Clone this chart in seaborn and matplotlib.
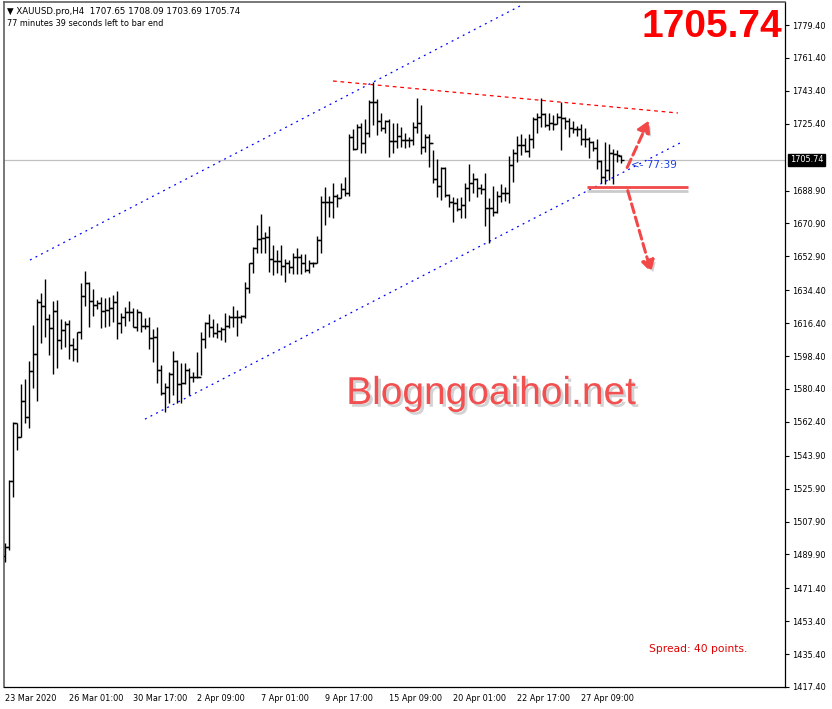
import numpy as np
import pandas as pd
import matplotlib
matplotlib.use("Agg")
import matplotlib.pyplot as plt
import matplotlib.patheffects as pe
from matplotlib.patches import FancyArrowPatch
import seaborn as sns

# H4 bars of XAUUSD, 23 Mar - 28 Apr 2020
opens = [1489.0, 1494.1, 1530.2, 1561.6, 1554.3, 1573.8, 1565.2, 1590.2, 1599.3, 1627.7,
         1625.7, 1618.4, 1613.5, 1623.0, 1607.1, 1612.6, 1615.9, 1604.4, 1602.2, 1611.7,
         1631.2, 1638.1, 1628.5, 1626.3, 1627.2, 1623.0, 1623.5, 1624.4, 1627.7, 1616.2,
         1619.9, 1622.6, 1622.3, 1614.4, 1622.6, 1615.0, 1615.0, 1608.0, 1609.0, 1590.7,
         1578.0, 1581.6, 1588.5, 1595.7, 1582.9, 1583.4, 1590.7, 1587.1, 1586.7, 1587.1,
         1607.7, 1616.3, 1614.4, 1611.2, 1612.1, 1613.0, 1614.8, 1619.5, 1619.5, 1619.9,
         1620.3, 1635.4, 1649.4, 1657.3, 1662.2, 1662.7, 1663.7, 1651.3, 1650.3, 1650.3,
         1647.6, 1649.4, 1647.3, 1652.4, 1652.7, 1649.4, 1645.4, 1649.4, 1649.4, 1661.8,
         1682.8, 1682.8, 1682.8, 1685.9, 1685.0, 1689.7, 1687.4, 1718.3, 1711.6, 1723.8,
         1715.1, 1720.2, 1737.1, 1737.1, 1726.9, 1722.9, 1726.9, 1716.0, 1716.0, 1718.5,
         1716.5, 1716.5, 1716.5, 1723.5, 1726.0, 1712.9, 1718.3, 1714.7, 1695.0, 1691.4,
         1701.0, 1686.4, 1682.8, 1682.2, 1678.6, 1681.0, 1690.1, 1693.2, 1695.2, 1690.1,
         1689.5, 1679.5, 1679.5, 1677.3, 1685.9, 1687.4, 1687.4, 1702.8, 1709.6, 1713.8,
         1713.8, 1710.7, 1716.9, 1727.8, 1729.3, 1730.6, 1724.7, 1725.6, 1725.1, 1728.9,
         1728.4, 1727.1, 1722.9, 1722.4, 1722.4, 1717.1, 1716.9, 1715.3, 1712.3, 1705.0,
         1696.5, 1700.1, 1709.6, 1708.9, 1707.65]
highs = [1495.9, 1530.6, 1562.1, 1561.6, 1582.9, 1585.8, 1595.6, 1615.3, 1629.6, 1632.7,
         1640.5, 1621.3, 1628.5, 1629.0, 1618.6, 1617.5, 1618.1, 1608.0, 1611.7, 1638.3,
         1644.9, 1639.0, 1634.8, 1629.0, 1630.8, 1630.3, 1630.8, 1631.7, 1633.9, 1621.7,
         1625.0, 1628.5, 1624.4, 1624.1, 1622.6, 1619.0, 1619.9, 1613.1, 1614.4, 1593.5,
         1583.4, 1589.8, 1601.1, 1596.2, 1594.4, 1594.7, 1591.6, 1589.8, 1600.8, 1611.7,
         1617.2, 1621.2, 1618.4, 1616.3, 1614.4, 1621.7, 1620.8, 1625.9, 1623.6, 1620.8,
         1639.0, 1649.4, 1657.8, 1670.0, 1676.0, 1666.0, 1669.5, 1659.1, 1656.4, 1659.1,
         1651.3, 1650.9, 1654.5, 1657.3, 1654.0, 1654.0, 1650.9, 1650.0, 1664.2, 1685.9,
         1691.0, 1685.9, 1693.2, 1687.0, 1692.8, 1696.1, 1719.8, 1722.5, 1725.3, 1726.0,
         1727.8, 1738.4, 1748.1, 1738.8, 1731.1, 1727.5, 1727.8, 1726.0, 1725.6, 1723.8,
         1720.2, 1718.0, 1726.5, 1739.7, 1735.7, 1719.8, 1719.8, 1711.0, 1706.1, 1701.9,
         1701.6, 1686.8, 1685.2, 1684.6, 1685.5, 1693.2, 1703.2, 1698.3, 1695.6, 1692.5,
         1698.6, 1685.0, 1691.4, 1688.6, 1692.3, 1691.0, 1707.8, 1711.6, 1718.7, 1719.6,
         1717.4, 1719.8, 1728.9, 1731.5, 1739.7, 1731.1, 1731.5, 1730.2, 1731.5, 1737.5,
         1728.9, 1728.4, 1726.9, 1724.4, 1725.1, 1722.9, 1718.0, 1716.0, 1716.9, 1705.6,
         1715.3, 1714.2, 1711.4, 1711.0, 1708.09]
lows = [1485.9, 1492.3, 1521.4, 1547.0, 1554.3, 1561.6, 1559.2, 1580.7, 1574.0, 1605.7,
        1609.0, 1598.9, 1588.3, 1592.0, 1602.0, 1603.5, 1596.7, 1595.8, 1595.3, 1607.5,
        1625.7, 1614.4, 1620.4, 1623.9, 1613.5, 1614.4, 1615.0, 1617.2, 1607.5, 1610.8,
        1614.8, 1617.5, 1614.4, 1612.2, 1611.3, 1613.0, 1602.0, 1595.3, 1583.4, 1577.1,
        1567.9, 1572.5, 1577.1, 1572.5, 1572.5, 1582.9, 1577.1, 1584.3, 1586.5, 1588.0,
        1602.6, 1609.0, 1609.0, 1608.4, 1607.1, 1606.2, 1613.9, 1614.4, 1609.5, 1616.3,
        1619.3, 1632.7, 1644.0, 1654.5, 1654.9, 1654.5, 1644.5, 1642.7, 1643.6, 1642.7,
        1639.0, 1643.6, 1643.1, 1643.3, 1643.3, 1644.5, 1644.0, 1647.3, 1649.1, 1654.9,
        1670.0, 1674.6, 1673.7, 1680.1, 1684.6, 1685.9, 1685.9, 1711.0, 1711.6, 1709.6,
        1709.2, 1718.3, 1724.7, 1719.2, 1721.4, 1720.2, 1707.4, 1709.2, 1712.0, 1712.9,
        1712.0, 1712.9, 1713.8, 1720.2, 1708.9, 1710.1, 1701.6, 1693.2, 1685.5, 1683.7,
        1685.2, 1679.7, 1671.9, 1677.9, 1673.7, 1673.7, 1683.3, 1687.7, 1685.2, 1686.8,
        1669.7, 1660.0, 1675.0, 1676.8, 1682.8, 1683.2, 1681.9, 1693.7, 1704.7, 1708.3,
        1710.1, 1707.0, 1712.0, 1720.2, 1723.8, 1723.8, 1722.0, 1722.0, 1725.1, 1711.0,
        1722.5, 1718.3, 1720.5, 1718.7, 1713.8, 1712.9, 1706.5, 1710.5, 1700.5, 1692.8,
        1692.5, 1694.6, 1692.5, 1704.7, 1703.69]
closes = [1494.1, 1530.2, 1561.6, 1554.3, 1573.8, 1565.2, 1590.2, 1599.3, 1627.7, 1625.7,
          1618.4, 1613.5, 1623.0, 1607.1, 1612.6, 1615.9, 1604.4, 1602.2, 1611.7, 1631.2,
          1638.1, 1628.5, 1626.3, 1627.2, 1623.0, 1623.5, 1624.4, 1627.7, 1616.2, 1619.9,
          1622.6, 1622.3, 1614.4, 1622.6, 1615.0, 1615.0, 1608.0, 1609.0, 1590.7, 1578.0,
          1581.6, 1588.5, 1595.7, 1582.9, 1583.4, 1590.7, 1587.1, 1586.7, 1587.1, 1607.7,
          1616.3, 1614.4, 1611.2, 1612.1, 1613.0, 1614.8, 1619.5, 1619.5, 1619.9, 1620.3,
          1635.4, 1649.4, 1657.3, 1662.2, 1662.7, 1663.7, 1651.3, 1650.3, 1650.3, 1647.6,
          1649.4, 1647.3, 1652.4, 1652.7, 1649.4, 1645.4, 1649.4, 1649.4, 1661.8, 1682.8,
          1682.8, 1682.8, 1685.9, 1685.0, 1689.7, 1687.4, 1718.3, 1711.6, 1723.8, 1715.1,
          1720.2, 1737.1, 1737.1, 1726.9, 1722.9, 1726.9, 1716.0, 1716.0, 1718.5, 1716.5,
          1716.5, 1716.5, 1723.5, 1726.0, 1712.9, 1718.3, 1714.7, 1695.0, 1691.4, 1701.0,
          1686.4, 1682.8, 1682.2, 1678.6, 1681.0, 1690.1, 1693.2, 1695.2, 1690.1, 1689.5,
          1679.5, 1679.5, 1677.3, 1685.9, 1687.4, 1687.4, 1702.8, 1709.6, 1713.8, 1713.8,
          1710.7, 1716.9, 1727.8, 1729.3, 1730.6, 1724.7, 1725.6, 1725.1, 1728.9, 1728.4,
          1727.1, 1722.9, 1722.4, 1722.4, 1717.1, 1716.9, 1715.3, 1712.3, 1705.0, 1696.5,
          1700.1, 1709.6, 1708.9, 1708.3, 1705.74]

date_labels = ["23 Mar 2020", "26 Mar 01:00", "30 Mar 17:00", "2 Apr 09:00", "7 Apr 01:00",
               "9 Apr 17:00", "15 Apr 09:00", "20 Apr 01:00", "22 Apr 17:00", "27 Apr 09:00"]
date_bars = [0, 16, 32, 48, 64, 80, 96, 112, 128, 144]
price_ticks = [1779.40, 1761.40, 1743.40, 1725.40, 1688.90, 1670.90, 1652.90, 1634.40,
               1616.40, 1598.40, 1580.40, 1562.40, 1543.90, 1525.90, 1507.90, 1489.90,
               1471.40, 1453.40, 1435.40, 1417.40]

# drawn objects: (bar, price) end points
channel_top = ([6.25, 129.25], [1650.9, 1790.4])
channel_bottom = ([35.0, 168.75], [1563.9, 1714.9])
resistance = ([82.0, 168.25], [1748.8, 1731.3])
support_level = 1690.8
last_price = 1705.74

df = pd.DataFrame({"open": opens, "high": highs, "low": lows, "close": closes})
df["bar"] = np.arange(len(df))

sns.set_theme(style="white")
plt.rcParams["font.family"] = ["DejaVu Sans"]

fig = plt.figure(figsize=(8.32, 7.09), dpi=100)
ax = fig.add_axes([4 / 832, 22 / 709, 781 / 832, 685 / 709])

# OHLC bars
ax.vlines(df["bar"], df["low"], df["high"], color="black", lw=1.0, zorder=3)
ax.hlines(df["open"], df["bar"] - 0.65, df["bar"], color="black", lw=1.0, zorder=3)
ax.hlines(df["close"], df["bar"], df["bar"] + 0.65, color="black", lw=1.0, zorder=3)

# current price line
ax.axhline(last_price, color="#c0c0c0", lw=0.9, zorder=1)

# channel + resistance lines
for xs, ys in [channel_top, channel_bottom]:
    sns.lineplot(x=xs, y=ys, ax=ax, color="#0000ff", lw=0.9,
                 linestyle=(0, (1.5, 3.5)), zorder=2)
sns.lineplot(x=resistance[0], y=resistance[1], ax=ax, color="#ff0000", lw=0.9,
             linestyle=(0, (3, 3)), zorder=2)

shadow = [pe.SimpleLineShadow(offset=(0, -3), shadow_color="0.55", alpha=0.45), pe.Normal()]
ax.plot([145.5, 170.75], [support_level, support_level], color="#f24848", lw=2.0,
        solid_capstyle="butt", path_effects=shadow, zorder=4)

for start, end in [((155.25, 1700.1), (161.25, 1728.6)), ((155.5, 1690.3), (161.75, 1642.7))]:
    arr = FancyArrowPatch(start, end, arrowstyle="-|>,head_length=4.2,head_width=2.4",
                          color="#f24848", lw=2.2, linestyle=(0, (3, 1.5)),
                          mutation_scale=1.6, zorder=5,
                          path_effects=[pe.SimplePatchShadow(offset=(2, -2), shadow_rgbFace="0.5", alpha=0.35),
                                        pe.Normal()])
    ax.add_patch(arr)

ax.text(156.6, 1702.8, "<- 77:39", color="#2040e0", fontsize=7.5, ha="left", va="center", zorder=6)

ax.set_xlim(-0.25, 195)
ax.set_ylim(1417.4, 1792.0)

ax.yaxis.tick_right()
ax.set_yticks(price_ticks)
ax.set_yticklabels([f"{p:.2f}" for p in price_ticks])
ax.set_xticks(date_bars)
ax.set_xticklabels(date_labels)
ax.tick_params(axis="y", direction="out", length=3, width=0.8, color="black",
               labelsize=5.9, pad=2, labelcolor="black")
ax.tick_params(axis="x", direction="out", length=3, width=0.8, color="black",
               labelsize=5.9, pad=2, labelcolor="black")
plt.setp(ax.get_xticklabels(), ha="left")
ax.set_xlabel("")
ax.set_ylabel("")
for side in ["right", "bottom"]:
    ax.spines[side].set_color("black")
    ax.spines[side].set_linewidth(0.9)
for side in ["left", "top"]:
    ax.spines[side].set_color("#606060")
    ax.spines[side].set_linewidth(1.2)

# last price box on the axis
ax.annotate(f"{last_price:.2f}", xy=(1.0064, last_price), xycoords=("axes fraction", "data"),
            color="white", fontsize=5.9, ha="left", va="center", annotation_clip=False,
            bbox=dict(boxstyle="square,pad=0.2", fc="black", ec="black"), zorder=10)

# header texts
fig.text(7 / 832, 1 - 11 / 709, "\u25bc XAUUSD.pro,H4  1707.65 1708.09 1703.69 1705.74",
         fontsize=6.2, va="center", ha="left", color="black")
fig.text(7 / 832, 1 - 24 / 709, "77 minutes 39 seconds left to bar end",
         fontsize=5.9, va="center", ha="left", color="black")
fig.text(782 / 832, 1 - 27 / 709, "1705.74", fontsize=28, fontweight="bold",
         family=["Liberation Sans", "DejaVu Sans"], color="#ff0000", ha="right", va="center")
fig.text(491 / 832, 1 - 394 / 709, "Blogngoaihoi.net", fontsize=28,
         family=["Liberation Sans", "DejaVu Sans"], color="#f25050", ha="center", va="center",
         path_effects=[pe.withSimplePatchShadow(offset=(2, -2), shadow_rgbFace="0.5", alpha=0.35)])
fig.text(649 / 832, 1 - 649 / 709, "Spread: 40 points.", fontsize=7.7, color="#e00000",
         ha="left", va="center")

fig.savefig("out.png", dpi=100)
